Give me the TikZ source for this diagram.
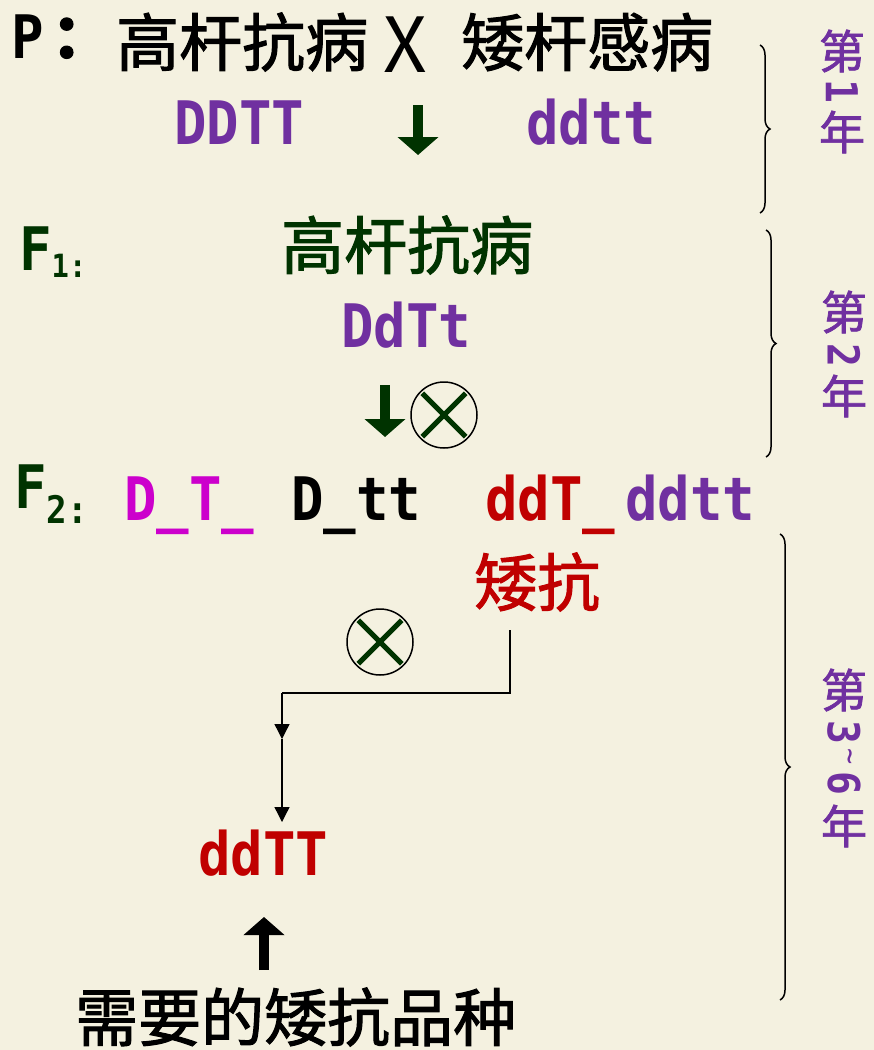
\documentclass[tikz,border=0pt]{standalone}
\usepackage{fontspec}
\usetikzlibrary{arrows.meta,decorations.pathreplacing}
\newfontfamily\cjk[FakeBold=1.6]{Noto Sans CJK SC}
\newfontfamily\plain{Noto Sans CJK SC}
\newfontfamily\gene[FakeStretch=0.9]{DejaVu Sans Mono}
\definecolor{paper}{HTML}{F4F1E0}
\definecolor{gpurple}{HTML}{7030A0}
\definecolor{gmagenta}{HTML}{CC00CC}
\definecolor{gred}{HTML}{C00000}
\definecolor{ggreen}{HTML}{003300}

\begin{document}
\begin{tikzpicture}[x=1pt,y=-1pt,
  han/.style={inner sep=0pt,anchor=base west,font=\cjk\fontsize{63}{63}\selectfont},
  gene/.style={inner sep=0pt,anchor=base west,font=\gene\bfseries\fontsize{60}{60}\selectfont},
  year/.style={inner sep=0pt,text=gpurple,font=\cjk\fontsize{46}{46}\selectfont},
  yeardigit/.style={inner sep=0pt,rotate=-90,text=gpurple,font=\gene\bfseries\fontsize{44}{44}\selectfont},
  selfing/.style={circle,draw,line width=1.5pt,minimum size=66pt,inner sep=0pt},
  xmark/.style={ggreen,line width=5pt,shorten >=3pt,shorten <=3pt},
  bigarrow/.style={line width=10pt,-{Triangle[width=40pt,length=18pt]}},
  link/.style={line width=1.3pt,-{Triangle[width=15pt,length=15pt]}},
  yearbrace/.style={decorate,decoration={brace,amplitude=10pt},line width=1.5pt}]
\fill[paper] (0,0) rectangle (874,1050);
\useasboundingbox (0,0) rectangle (874,1050);

\node[gene] (p) at (11,58) {P\kern8pt{\cjk ：}};
\node[han] (tallres) at (116,66) {高杆抗病};
\node[inner sep=0pt,font=\plain\fontsize{76}{76}\selectfont] (cross) at (405,45) {X};
\node[han] (dwarfsus) at (461,66) {矮杆感病};
\node[gene,text=gpurple] (DDTT) at (174,144) {DDTT};
\node[gene,text=gpurple] (ddtt) at (526,144) {ddtt};
\coordinate (c1) at (418,105);
\coordinate (c2) at (418,155);
\draw[bigarrow,ggreen] (c1) -- (c2);

\node[gene,text=ggreen] (f1) at (19,270) {F\raisebox{-7pt}{\fontsize{32}{32}\selectfont 1:}};
\node[han,text=ggreen] (f1pheno) at (281,269) {高杆抗病};
\node[gene,text=gpurple] (DdTt) at (341,347) {DdTt};
\coordinate (c3) at (385,385);
\coordinate (c4) at (385,437);
\draw[bigarrow,ggreen] (c3) -- (c4);
\node[selfing] (s1) at (444,415) {};
\draw[xmark] (s1.north west) -- (s1.south east);
\draw[xmark] (s1.north east) -- (s1.south west);

\node[gene,text=ggreen] (f2) at (14,508) {F\raisebox{-15pt}{\fontsize{38}{38}\selectfont 2:}};
\node[gene,text=gmagenta] (DT) at (124,520) {D\_T\_};
\node[gene] (Dtt) at (291,520) {D\_tt};
\node[gene,text=gred] (ddT) at (485,520) {ddT\_};
\node[gene,text=gpurple] (ddtt2) at (625,520) {ddtt};

\node[han,text=gred] (dwarfres) at (474,606) {矮抗};
\node[selfing] (s2) at (380,642) {};
\draw[xmark] (s2.north west) -- (s2.south east);
\draw[xmark] (s2.north east) -- (s2.south west);
\coordinate (pick) at (510,630);
\coordinate (turn) at (282,693);
\coordinate (mid) at (282,739);
\coordinate (land) at (282,822);
\draw[line width=1.3pt] (pick) |- (turn);
\draw[link] (turn) -- (mid);
\draw[link] (mid) -- (land);

\node[gene,text=gred] (ddTT) at (198,875) {ddTT};
\coordinate (c5) at (264,970);
\coordinate (c6) at (264,917);
\draw[bigarrow] (c5) -- (c6);
\node[han] (goal) at (75,1041) {需要的矮抗品种};

\coordinate (b1t) at (760,45);
\coordinate (b1b) at (760,213);
\coordinate (b2t) at (766,230);
\coordinate (b2b) at (766,457);
\coordinate (b3t) at (780,534);
\coordinate (b3b) at (780,1000);
\draw[yearbrace] (b1t) -- (b1b);
\draw[yearbrace] (b2t) -- (b2b);
\draw[yearbrace] (b3t) -- (b3b);

\node[year] (yr1a) at (842,51) {第};
\node[yeardigit] (yr1b) at (842,91) {1};
\node[year] (yr1c) at (842,132) {年};
\node[year] (yr2a) at (844,312) {第};
\node[yeardigit] (yr2b) at (844,355) {2};
\node[year] (yr2c) at (844,396) {年};
\node[year] (yr3a) at (844,690) {第};
\node[yeardigit] (yr3b) at (844,732) {3};
\node[yeardigit,font=\gene\fontsize{30}{30}\selectfont] (yr3c) at (846,757) {\textasciitilde};
\node[yeardigit] (yr3d) at (844,783) {6};
\node[year] (yr3e) at (844,826) {年};
\end{tikzpicture}
\end{document}
